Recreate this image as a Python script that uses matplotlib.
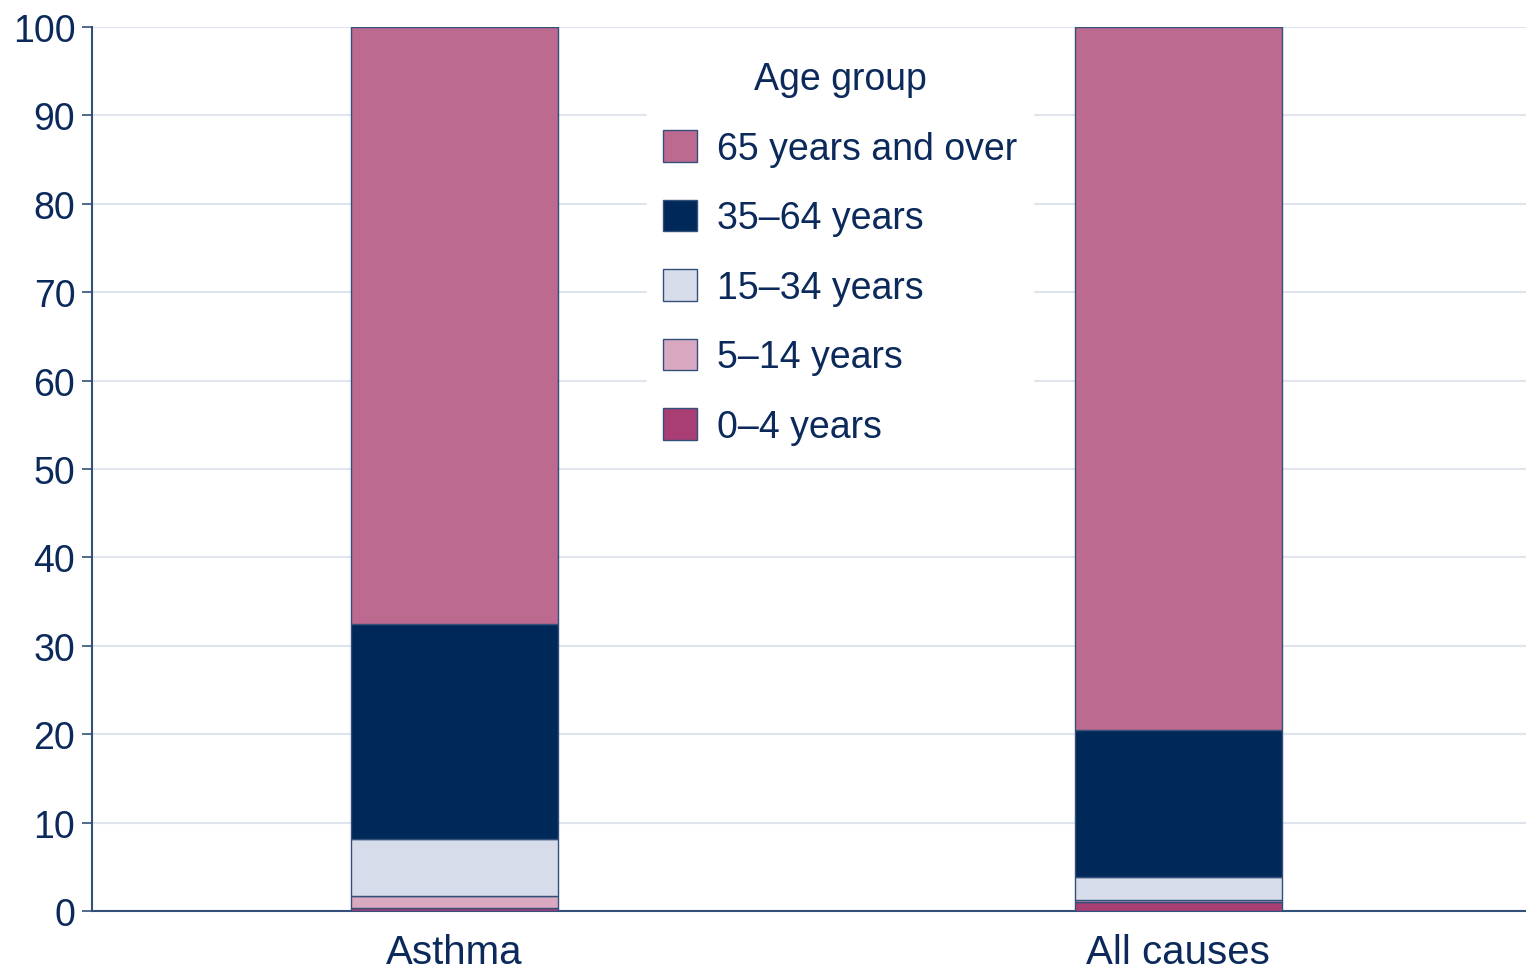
import matplotlib.pyplot as plt
from matplotlib.patches import Patch

plt.rcParams['font.family'] = ['Liberation Sans', 'DejaVu Sans']

categories = ["Asthma", "All causes"]
age_groups = ["0\u20134 years", "5\u201314 years", "15\u201334 years", "35\u201364 years", "65 years and over"]
# per cent of deaths in each age group (bottom to top)
age_0_4 = [0.3, 1.0]
age_5_14 = [1.4, 0.3]
age_15_34 = [6.5, 2.5]
age_35_64 = [24.3, 16.7]
age_65_plus = [67.5, 79.5]
series = [age_0_4, age_5_14, age_15_34, age_35_64, age_65_plus]
colors = ["#a83e74", "#d9a9c1", "#d6dce9", "#002858", "#bc6a8f"]

navy = "#0b2a5b"
edge = "#33507a"

fig = plt.figure(figsize=(15.26, 9.7), dpi=100)
ax = fig.add_axes([92 / 1526, 1 - 912 / 970, (1526 - 92) / 1526, (912 - 28) / 970])

x = list(range(len(categories)))
bottom = [0.0] * len(categories)
for vals, col in zip(series, colors):
    ax.bar(x, vals, width=0.286, bottom=bottom, color=col, edgecolor=edge, linewidth=1.0, zorder=3)
    bottom = [b + v for b, v in zip(bottom, vals)]

ax.set_xlim(-0.5, 1.48)
ax.set_ylim(0, 100)
ax.set_yticks(range(0, 101, 10))
ax.set_xticks(x)
ax.set_xticklabels(categories)
ax.tick_params(axis='y', labelsize=27, colors=navy, length=7, width=1.2, pad=5)
ax.tick_params(axis='x', labelsize=29, colors=navy, length=0, pad=16)
ax.tick_params(axis='y', color=edge)

ax.grid(axis='y', color="#dfe4ef", linewidth=1.5, zorder=0)
ax.set_axisbelow(True)
for s in ["top", "right"]:
    ax.spines[s].set_visible(False)
for s in ["left", "bottom"]:
    ax.spines[s].set_color(edge)
    ax.spines[s].set_linewidth(1.5)

handles = [Patch(facecolor=c, edgecolor=edge, linewidth=1.0) for c in colors][::-1]
labels = age_groups[::-1]
leg = ax.legend(handles, labels, title="Age group", loc='upper left',
                bbox_to_anchor=((628 - 92) / 1434, 1 - 0 / 884),
                fontsize=27, title_fontsize=27, frameon=True, facecolor='white',
                edgecolor='white', framealpha=1, fancybox=False,
                handlelength=0.93, handleheight=0.93, labelspacing=0.87,
                handletextpad=0.53, borderpad=0.42)
leg.get_title().set_color(navy)
for t in leg.get_texts():
    t.set_color(navy)

fig.savefig("out.png", dpi=100)
